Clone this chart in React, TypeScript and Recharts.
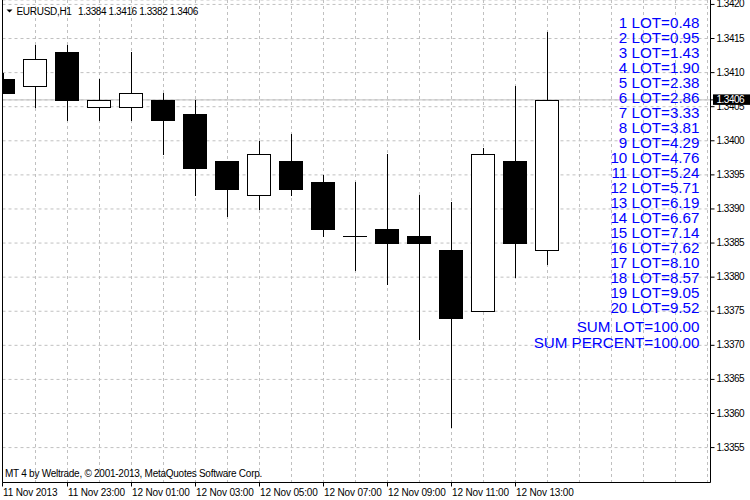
import React from 'react';
import { ComposedChart, Bar, XAxis, YAxis, CartesianGrid, ReferenceLine, Customized } from 'recharts';

// ---- data ----
const times = [
  '11 Nov 21:00', '11 Nov 22:00', '11 Nov 23:00', '12 Nov 00:00', '12 Nov 01:00', '12 Nov 02:00',
  '12 Nov 03:00', '12 Nov 04:00', '12 Nov 05:00', '12 Nov 06:00', '12 Nov 07:00', '12 Nov 08:00',
  '12 Nov 09:00', '12 Nov 10:00', '12 Nov 11:00', '12 Nov 12:00', '12 Nov 13:00', '12 Nov 14:00',
];
const opens = [1.3409, 1.3408, 1.3413, 1.3405, 1.3405, 1.3406, 1.3404, 1.3397, 1.3392, 1.3397, 1.3394, 1.3386, 1.3387, 1.3386, 1.3384, 1.3375, 1.3397, 1.3384];
const highs = [1.3410, 1.3414, 1.3414, 1.3409, 1.3413, 1.3407, 1.3406, 1.3397, 1.3400, 1.3401, 1.3395, 1.3394, 1.3398, 1.3392, 1.3391, 1.3399, 1.3408, 1.3416];
const lows = [1.3407, 1.3405, 1.3403, 1.3403, 1.3403, 1.3398, 1.3392, 1.3389, 1.3390, 1.3392, 1.3386, 1.3381, 1.3379, 1.3371, 1.3358, 1.3375, 1.3380, 1.3382];
const closes = [1.3407, 1.3412, 1.3406, 1.3406, 1.3407, 1.3403, 1.3396, 1.3393, 1.3398, 1.3393, 1.3387, 1.3386, 1.3385, 1.3385, 1.3374, 1.3398, 1.3385, 1.3406];

const priceTicks = [1.3355, 1.336, 1.3365, 1.337, 1.3375, 1.338, 1.3385, 1.339, 1.3395, 1.34, 1.3405, 1.341, 1.3415, 1.342];
const lastPrice = 1.3406;

const X_MIN = -0.03125;
const X_MAX = 22.09375;
const Y_MIN = 1.334988;
const Y_MAX = 1.342065;

const xTicks = [X_MIN, 2, 4, 6, 8, 10, 12, 14, 16];
const xTickLabels = ['11 Nov 2013', '11 Nov 23:00', '12 Nov 01:00', '12 Nov 03:00', '12 Nov 05:00', '12 Nov 07:00', '12 Nov 09:00', '12 Nov 11:00', '12 Nov 13:00'];
const gridSlots = [1, 2, 3, 4, 5, 6, 7, 8, 9, 10, 11, 12, 13, 14, 15, 16, 17, 18, 19, 20, 21, 22];

const lotValues = [0.48, 0.95, 1.43, 1.9, 2.38, 2.86, 3.33, 3.81, 4.29, 4.76, 5.24, 5.71, 6.19, 6.67, 7.14, 7.62, 8.1, 8.57, 9.05, 9.52];
const sumLot = 100.0;
const sumPercent = 100.0;

const symbolTitle = 'EURUSD,H1';
const copyright = 'MT 4 by Weltrade, \u00A9 2001-2013, MetaQuotes Software Corp.';

const data = times.map((t, i) => ({
  idx: i,
  time: t,
  open: opens[i],
  high: highs[i],
  low: lows[i],
  close: closes[i],
}));

const FONT = "'Liberation Sans', Arial, sans-serif";

const Candle = (props: any) => {
  const { x, y, width, height, payload } = props;
  if (x == null || y == null || !payload) return null;
  const { open, high, low, close } = payload;
  const top = Math.min(y, y + height);
  const h = Math.abs(height);
  const yOf = (v: number) => top + ((high - v) / (high - low)) * h;
  const cx = Math.floor(x + width / 2 + 0.01);
  const yH = Math.round(yOf(high));
  const yL = Math.round(yOf(low));
  const yT = Math.round(yOf(Math.max(open, close)));
  const yB = Math.round(yOf(Math.min(open, close)));
  const wick = <line x1={cx + 0.5} x2={cx + 0.5} y1={yH} y2={yL + 1} stroke="#000" strokeWidth={1} />;
  let body;
  if (open === close) {
    body = <line x1={cx - 12} x2={cx + 12} y1={yT + 0.5} y2={yT + 0.5} stroke="#000" strokeWidth={1} />;
  } else if (close > open) {
    body = <rect x={cx - 11.5} y={yT + 0.5} width={23} height={yB - yT} fill="#fff" stroke="#000" strokeWidth={1} />;
  } else {
    body = <rect x={cx - 12} y={yT} width={24} height={yB - yT + 1} fill="#000" />;
  }
  return (
    <g>
      {wick}
      {body}
    </g>
  );
};

const XTick = (props: any) => {
  const { x, y, payload } = props;
  const k = xTicks.indexOf(payload.value);
  const label = k >= 0 ? xTickLabels[k] : '';
  return (
    <text x={x + 0.5} y={y} dy="0.7em" fontSize={10} letterSpacing={-0.15} fontFamily={FONT} fill="#000" textAnchor="start">
      {label}
    </text>
  );
};

const YTick = (props: any) => {
  const { x, y, payload } = props;
  const v = payload.value as number;
  if (Math.abs(v - lastPrice) < 1e-9) {
    return (
      <g>
        <rect x={x - 3.5} y={y - 5.5} width={760 - x} height={10.5} fill="#000" />
        <text x={x} y={y} dy="0.34em" fontSize={10} letterSpacing={-0.5} fontFamily={FONT} fill="#fff" textAnchor="start">
          {v.toFixed(4)}
        </text>
      </g>
    );
  }
  return (
    <text x={x} y={y} dy="0.3em" fontSize={10} letterSpacing={-0.5} fontFamily={FONT} fill="#000" textAnchor="start">
      {v.toFixed(4)}
    </text>
  );
};

const Overlay = () => {
  const last = data[data.length - 1];
  const ohlc = [last.open, last.high, last.low, last.close].map((v) => v.toFixed(4)).join(' ');
  return (
    <g fontFamily={FONT}>
      <polygon points="6.5,9.5 12.5,9.5 9.5,12.5" fill="#000" />
      <text x={16.5} y={15} fontSize={10} letterSpacing={-0.3} fill="#000">{symbolTitle}</text>
      <text x={78} y={15} fontSize={10} letterSpacing={-0.4} fill="#000">{ohlc}</text>
      {lotValues.map((v, i) => (
        <text key={i} x={699.5} y={27.7 + 15 * i} fontSize={15.2} fill="#0000FF" textAnchor="end">
          {`${i + 1} LOT=${v.toFixed(2)}`}
        </text>
      ))}
      <text x={699.5} y={332.3} fontSize={15.2} fill="#0000FF" textAnchor="end">{`SUM LOT=${sumLot.toFixed(2)}`}</text>
      <text x={699.5} y={347.7} fontSize={15.2} fill="#0000FF" textAnchor="end">{`SUM PERCENT=${sumPercent.toFixed(2)}`}</text>
      <text x={5} y={477} fontSize={10} letterSpacing={-0.26} fill="#000">{copyright}</text>
    </g>
  );
};

export default function App() {
  return (
    <div style={{ position: 'absolute', left: 0, top: 0, width: 750, height: 500, background: '#fff' }}>
      <ComposedChart
        width={750}
        height={500}
        data={data}
        margin={{ top: 0, right: 0, bottom: 0, left: 2.5 }}
        style={{ fontFamily: FONT, background: '#fff' }}
      >
        <XAxis
          xAxisId="grid"
          type="number"
          dataKey="idx"
          domain={[X_MIN, X_MAX]}
          allowDataOverflow
          ticks={gridSlots}
          interval={0}
          hide
        />
        <CartesianGrid
          xAxisId="grid"
          stroke="#C0C0C0"
          strokeDasharray="3 3"
          vertical
          horizontal
        />
        <XAxis
          type="number"
          dataKey="idx"
          domain={[X_MIN, X_MAX]}
          allowDataOverflow
          ticks={xTicks}
          interval={0}
          height={17.5}
          tickSize={4}
          tickMargin={2}
          stroke="#000"
          tick={<XTick />}
        />
        <YAxis
          orientation="right"
          type="number"
          domain={[Y_MIN, Y_MAX]}
          allowDataOverflow
          ticks={[...priceTicks, lastPrice]}
          interval={0}
          width={39.5}
          tickSize={4}
          tickMargin={2}
          stroke="#000"
          tick={<YTick />}
        />
        <ReferenceLine y={lastPrice} stroke="#C0C0C0" strokeWidth={1} zIndex={-10} />
        <ReferenceLine x={X_MIN} stroke="#000" strokeWidth={1} />
        <Bar
          dataKey={(d: any) => [d.low, d.high]}
          barSize={24}
          shape={<Candle />}
          isAnimationActive={false}
        />
        <Customized component={<Overlay />} />
      </ComposedChart>
    </div>
  );
}
